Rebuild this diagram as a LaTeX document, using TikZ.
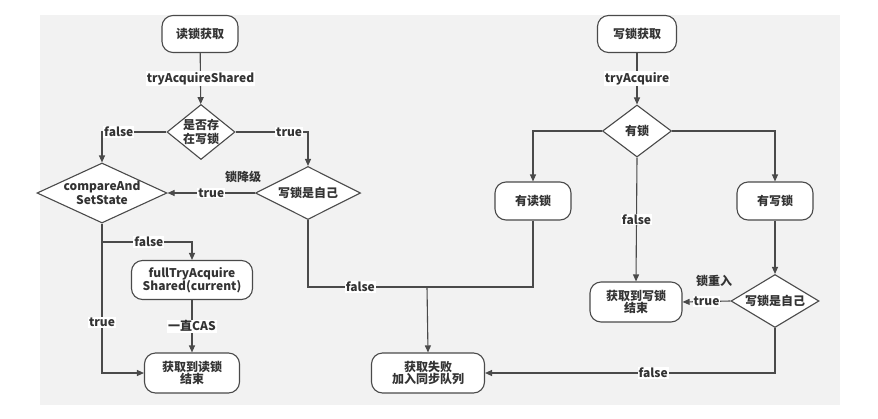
\documentclass[tikz,border=0pt]{standalone}
\usepackage{fontspec}
\setmainfont{Noto Sans CJK SC}
\usetikzlibrary{shapes.geometric,arrows.meta}
\definecolor{lc}{HTML}{4A4A4A}
\definecolor{bg}{HTML}{F2F2F2}
\definecolor{tc}{HTML}{333333}
\begin{document}
\begin{tikzpicture}[x=1pt,y=-1pt,
  every node/.style={font=\fontsize{12}{14.5}\selectfont\bfseries, text=tc},
  box/.style={draw=lc, fill=white, rounded corners=11pt, line width=1.1pt, align=center, inner sep=2pt},
  dia/.style={draw=lc, fill=white, diamond, line width=1.1pt, inner sep=0pt},
  dtext/.style={align=center, inner sep=0pt},
  lbl/.style={fill=white, inner sep=1pt},
  note/.style={inner sep=1pt},
  arr/.style={draw=lc, line width=1.1pt, -{Triangle[length=7pt,width=6pt]}},
  ln/.style={draw=lc, line width=1.1pt}]
\useasboundingbox (0,0) rectangle (878,418);
\fill[bg] (40,15) rectangle (840,405);

% read lock side
\node[box, minimum width=76pt, minimum height=37pt] (r1) at (200,34) {读锁获取};
\node[dia, minimum width=68pt, minimum height=55pt] (d1) at (201,132) {};
\node[dtext] (d1t) at (d1) {是否存\\在写锁};
\node[dia, minimum width=130pt, minimum height=60pt] (cas) at (102,193) {};
\node[dtext] (cast) at (cas) {compareAnd\\SetState};
\node[dia, minimum width=105pt, minimum height=53pt] (w1) at (308,193) {};
\node[dtext] (w1t) at (w1) {写锁是自己};
\node[box, minimum width=121pt, minimum height=39pt] (ft) at (192,280) {fullTryAcquire\\[-2pt]Shared(current)};
\node[box, minimum width=95pt, minimum height=40pt] (r2) at (192,373) {获取到读锁\\[-2pt]结束};
\node[box, minimum width=113pt, minimum height=40pt] (fail) at (428,373) {获取失败\\[-2pt]加入同步队列};

% write lock side
\node[box, minimum width=79pt, minimum height=37pt] (w0) at (637,34) {写锁获取};
\node[dia, minimum width=69pt, minimum height=52pt] (d2) at (637,131) {};
\node[dtext] (d2t) at (d2) {有锁};
\node[box, minimum width=76pt, minimum height=38pt] (rr) at (533,201) {有读锁};
\node[box, minimum width=76pt, minimum height=38pt] (wr) at (775,201) {有写锁};
\node[box, minimum width=92pt, minimum height=40pt] (r3) at (636,302) {获取到写锁\\[-2pt]结束};
\node[dia, minimum width=88pt, minimum height=53pt] (w2) at (775,301) {};
\node[dtext] (w2t) at (w2) {写锁是自己};

\coordinate (join) at (427,287);
\coordinate (fsplit) at (102,242);

% read connectors
\draw[arr] (r1) -- node[lbl]{tryAcquireShared} (d1);
\draw[arr] (d1.west) -| node[lbl, pos=0.37]{false} (cas.north);
\draw[arr] (d1.east) -| node[lbl, pos=0.37]{true} (w1.north);
\draw[arr] (w1.west) -- node[lbl]{true} (cas.east);
\node[note] (down) at (243,177) {锁降级};
\draw[ln] (w1.south) |- node[lbl, pos=0.72]{false} (join);
\draw[ln] (rr.south) |- (join);
\draw[arr] (join) -- (fail.north);
\draw[arr] (cas.south) |- node[lbl, pos=0.33]{true} (r2.west);
\draw[arr] (fsplit) -| node[lbl, pos=0.26]{false} (ft.north);
\draw[arr] (ft) -- node[lbl]{一直CAS} (r2);

% write connectors
\draw[arr] (w0) -- node[lbl]{tryAcquire} (d2);
\draw[arr] (d2.west) -| (rr.north);
\draw[arr] (d2.east) -| (wr.north);
\draw[arr] (d2.south) -- node[lbl, pos=0.5]{false} (r3.north);
\draw[arr] (wr) -- (w2);
\draw[arr] (w2.west) -- node[lbl]{true} (r3.east);
\node[note] (reent) at (714,281) {锁重入};
\draw[arr] (w2.south) |- node[lbl, pos=0.71]{false} (fail.east);
\end{tikzpicture}
\end{document}
